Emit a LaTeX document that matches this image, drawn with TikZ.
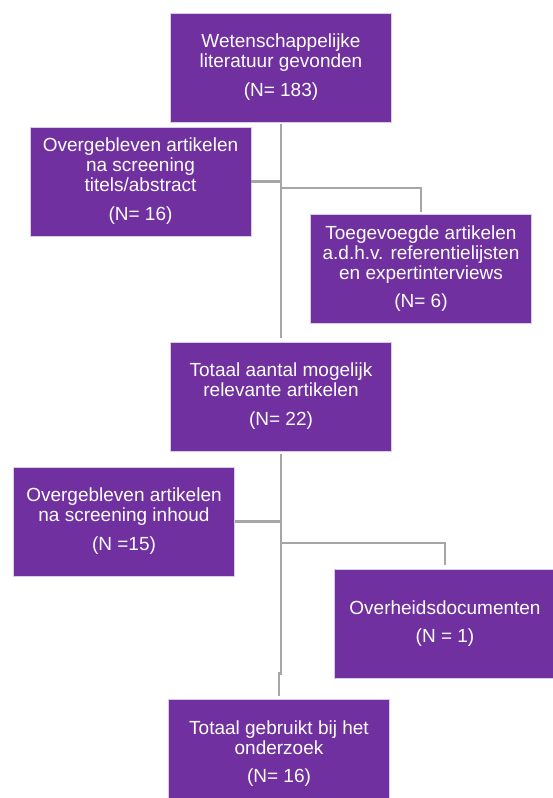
\documentclass[tikz,border=0pt]{standalone}
\usepackage{fontspec}
\setmainfont{Liberation Sans}

\definecolor{paars}{HTML}{7030A0}
\definecolor{lijn}{HTML}{A6A6A6}
\definecolor{rand}{HTML}{D9CCE6}

\tikzset{
  vak/.style={fill=paars, draw=rand, line width=0.8pt,
    minimum width=221pt, minimum height=109pt, inner sep=0pt,
    align=center, text=white, font=\fontsize{19}{20}\selectfont},
  lijnstuk/.style={draw=lijn, line width=2.5pt}
}

\begin{document}
\begin{tikzpicture}[x=1pt, y=1pt]
        \useasboundingbox (0,0) rectangle (552,-798);

        % Vakken
        \node[vak] (lit)  at (281,-67.5)  {Wetenschappelijke\\literatuur gevonden\\[9pt](N= 183)};
        \node[vak] (scr1) at (140.5,-181.5) {Overgebleven artikelen\\na screening\\titels/abstract\\[9pt](N= 16)};
        \node[vak] (add)  at (421,-268.5) {Toegevoegde artikelen\\a.d.h.v. referentielijsten\\en expertinterviews\\[8pt](N= 6)};
        \node[vak] (tot)  at (281,-396.5) {Totaal aantal mogelijk\\relevante artikelen\\[9pt](N= 22)};
        \node[vak] (scr2) at (124,-521.5)   {Overgebleven artikelen\\na screening inhoud\\[9pt](N =15)};
        \node[vak] (gov)  at (445,-623.5) {Overheidsdocumenten\\[8pt](N = 1)};
        \node[vak] (used) at (279,-753.5) {Totaal gebruikt bij het\\onderzoek\\[8pt](N= 16)};

        % Lijnen bovenste deel
        \coordinate (splits1) at (281,-188);
        \draw[lijnstuk, shorten <=2pt, shorten >=4pt] (lit.south) -- (tot.north);
        \draw[lijnstuk] (scr1.east) -- (scr1.east -| lit.south);
        \draw[lijnstuk, shorten >=2pt] (splits1) -| (add.north);

        % Lijnen onderste deel
        \coordinate (splits2) at (281,-543);
        \draw[lijnstuk, shorten <=3pt, shorten >=3pt] (tot.south) -- ++(0,-222) -| (used.north);
        \draw[lijnstuk] (scr2.east) -- (scr2.east -| tot.south);
        \draw[lijnstuk, shorten >=4pt] (splits2) -| (gov.north);

\end{tikzpicture}
\end{document}
